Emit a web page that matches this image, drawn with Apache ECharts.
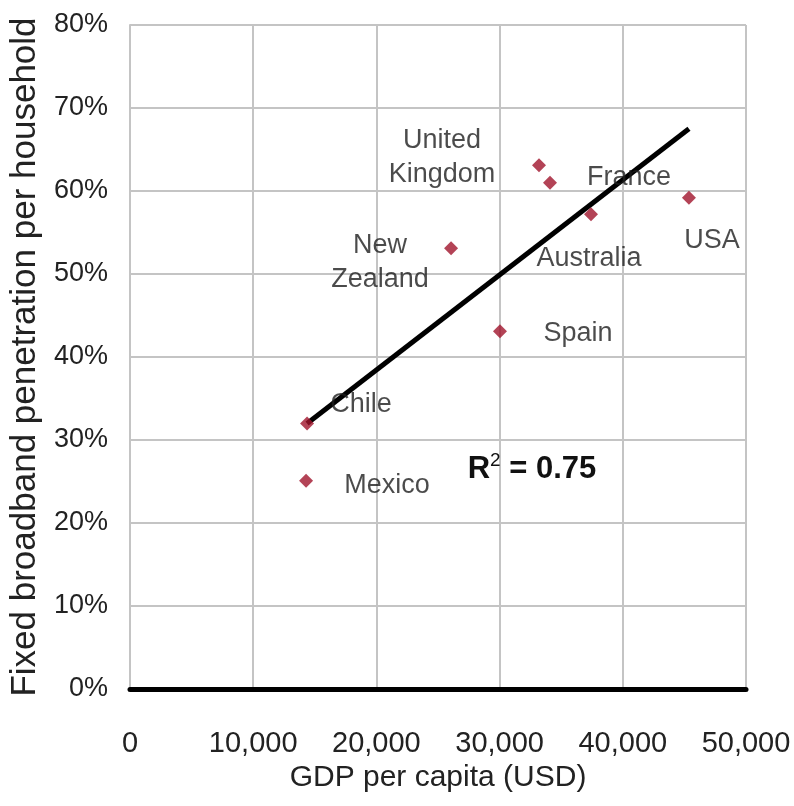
<!DOCTYPE html>
<html>
<head>
<meta charset="utf-8">
<script src="https://cdn.jsdelivr.net/npm/echarts@6/dist/echarts.min.js"></script>
<style>html,body{margin:0;padding:0;background:#fff;}#c{width:794px;height:806px;}</style>
</head>
<body>
<div id="c"></div>
<script>
const countries = ['Chile', 'Mexico', 'New\nZealand', 'Spain', 'United\nKingdom', 'France', 'Australia', 'USA'];
const gdpPerCapita = [14370, 14290, 26060, 30030, 33200, 34090, 37420, 45370];
const broadbandPct = [32.0, 25.1, 53.1, 43.1, 63.1, 61.0, 57.2, 59.2];
const trendX = [14370, 45370];
const trendY = [32.0, 67.5];
const xTicks = [0, 10000, 20000, 30000, 40000, 50000];
const yTicks = [0, 10, 20, 30, 40, 50, 60, 70, 80];
const rSquared = '0.75';

const labelOffsets = [[54,-19],[81,5],[-71,14],[78,2],[-97,-8],[79,-5],[-2,44],[23,43]];
const FONT = '"Liberation Sans", Arial, sans-serif';

const chart = echarts.init(document.getElementById('c'), null, {renderer: 'canvas'});
chart.setOption({
  animation: false,
  backgroundColor: '#fff',
  grid: {left: 130, right: 48, top: 25, bottom: 117},
  xAxis: {
    type: 'value', min: xTicks[0], max: xTicks[xTicks.length-1], interval: xTicks[1]-xTicks[0],
    name: 'GDP per capita (USD)', nameLocation: 'middle', nameGap: 74,
    nameTextStyle: {fontFamily: FONT, fontSize: 30, color: '#222'},
    axisLine: {show: true, onZero: false, lineStyle: {color: '#000', width: 5}},
    axisTick: {show: false},
    axisLabel: {margin: 40, fontFamily: FONT, fontSize: 29, color: '#222',
      formatter: v => v.toLocaleString('en-US')},
    splitLine: {show: true, lineStyle: {color: '#c4c4c4', width: 2}}
  },
  yAxis: {
    type: 'value', min: yTicks[0], max: yTicks[yTicks.length-1], interval: yTicks[1]-yTicks[0],
    name: 'Fixed broadband penetration per household', nameLocation: 'middle', nameGap: 86,
    nameTextStyle: {fontFamily: FONT, fontSize: 35, color: '#222'},
    axisLine: {show: true, lineStyle: {color: '#c4c4c4', width: 2}},
    axisTick: {show: false},
    axisLabel: {margin: 22, fontFamily: FONT, fontSize: 27, color: '#222', formatter: v => v + '%'},
    splitLine: {show: true, lineStyle: {color: '#c4c4c4', width: 2}}
  },
  series: [
    {
      type: 'line',
      data: trendX.map((x, i) => [x, trendY[i]]),
      showSymbol: false, symbol: 'none',
      lineStyle: {color: '#000', width: 5},
      z: 3
    },
    {
      type: 'scatter',
      symbol: 'diamond', symbolSize: 14,
      itemStyle: {color: '#a0142c'},
      data: countries.map((c, i) => ({
        value: [gdpPerCapita[i], broadbandPct[i]], name: c,
        label: {offset: labelOffsets[i]}
      })),
      label: {
        show: true, position: 'inside', formatter: p => p.name,
        fontFamily: FONT, fontSize: 27, color: '#1e1e1e', lineHeight: 34, align: 'center'
      },
      z: 4
    }
  ],
  graphic: [{
    type: 'text', x: 532, y: 468,
    style: {
      text: '{b|R}{s|2}{b| = ' + rSquared + '}',
      align: 'center', verticalAlign: 'middle',
      rich: {
        b: {fontFamily: FONT, fontSize: 31, fontWeight: 'bold', fill: '#111', verticalAlign: 'bottom'},
        s: {fontFamily: FONT, fontSize: 19, fill: '#111', padding: [0,0,15,0], verticalAlign: 'top'}
      }
    },
    z: 10
  }]
});
</script>
</body>
</html>
